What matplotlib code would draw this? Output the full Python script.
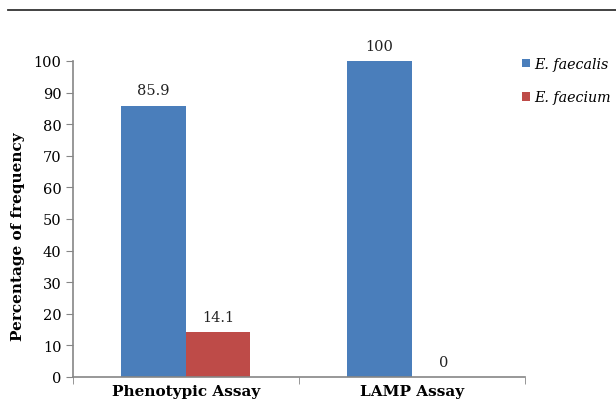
import matplotlib.pyplot as plt
from matplotlib.lines import Line2D
import numpy as np

# values
categories = ["Phenotypic Assay", "LAMP Assay"]
series_names = ["E. faecalis", "E. faecium"]
faecalis = [85.9, 100]
faecium = [14.1, 0]
yticks = list(range(0, 101, 10))

blue = "#4a7ebb"
red = "#be4b48"
axis_gray = "#868686"

plt.rcParams['font.family'] = ['DejaVu Serif']

fig = plt.figure(figsize=(6.16, 4.06), dpi=100)
ax = fig.add_axes([72.5/616, 28/406, (525-72.5)/616, 316/406])

x = np.arange(len(categories))
w = 0.285
b1 = ax.bar(x - w/2, faecalis, w, color=blue, label=series_names[0])
b2 = ax.bar(x + w/2, faecium, w, color=red, label=series_names[1])

for bars, vals in [(b1, faecalis), (b2, faecium)]:
  for rect, v in zip(bars, vals):
    txt = "%g" % v
    ax.annotate(txt, (rect.get_x() + rect.get_width()/2, v), xytext=(0, 6),
                textcoords="offset points", ha="center", va="bottom",
                fontsize=10.5, color="#222222")

ax.set_xlim(-0.5, 1.5)
ax.set_ylim(0, 100)
ax.set_yticks(yticks)
ax.set_xticks(x)
ax.set_xticklabels(categories, fontweight="bold", fontsize=11)
ax.set_xticks([-0.5, 0.5, 1.5], minor=True)
ax.tick_params(axis="x", which="major", length=0, pad=5)
ax.tick_params(axis="x", which="minor", length=5, direction="out", color=axis_gray)
ax.tick_params(axis="y", length=5, direction="out", color=axis_gray, labelsize=10.5, pad=3)
for side in ["top", "right"]:
  ax.spines[side].set_visible(False)
for side in ["left", "bottom"]:
  ax.spines[side].set_color(axis_gray)
  ax.spines[side].set_linewidth(1.2)

ax.set_ylabel("Percentage of frequency", fontweight="bold", fontsize=11)
ax.yaxis.set_label_coords(-0.105, 0.446)

leg = fig.legend(handles=[b1, b2], loc="upper left", bbox_to_anchor=(522/616, 1 - 58/406),
                 frameon=False, handlelength=0.55, handleheight=0.55, handletextpad=0.3,
                 labelspacing=1.35, borderpad=0, borderaxespad=0,
                 prop={"style": "italic", "size": 10.3})

# rule across the top of the figure
fig.add_artist(Line2D([8/616, 1], [1 - 11/406, 1 - 11/406], color="#333333", lw=1.3))

fig.savefig("out.png", dpi=100)
